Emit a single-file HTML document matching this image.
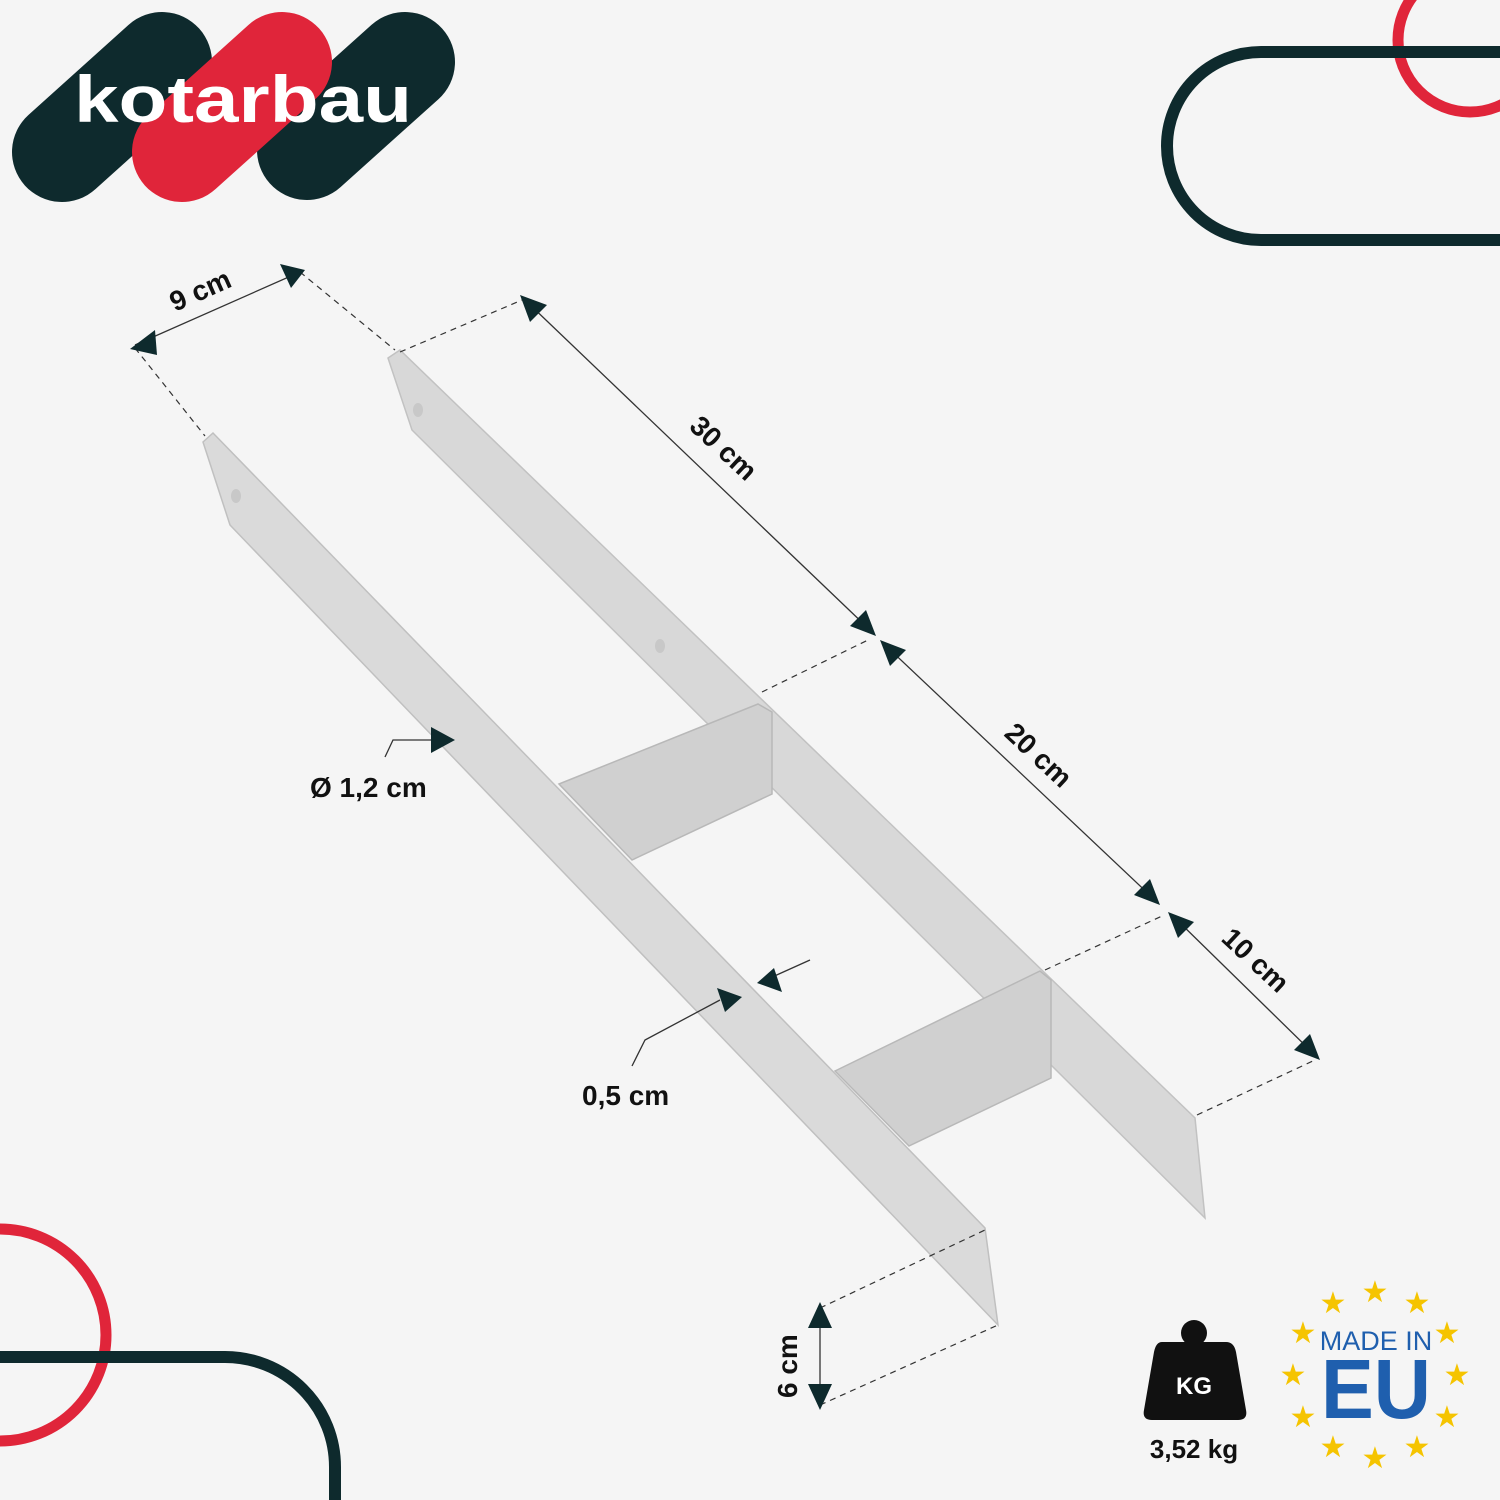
<!DOCTYPE html>
<html><head><meta charset="utf-8"><style>
html,body{margin:0;padding:0;background:#f5f5f5;width:1500px;height:1500px;overflow:hidden}
svg{display:block}
text{font-family:"Liberation Sans",sans-serif}
</style></head><body>
<svg width="1500" height="1500" viewBox="0 0 1500 1500" xmlns="http://www.w3.org/2000/svg" style="overflow:hidden">
<rect width="1500" height="1500" fill="#f5f5f5"/>
<!-- logo -->
<g stroke-linecap="round" fill="none">
<line x1="62" y1="152" x2="162" y2="62" stroke="#0e2a2d" stroke-width="100"/>
<line x1="307" y1="150" x2="405" y2="62" stroke="#0e2a2d" stroke-width="100"/>
<line x1="182" y1="152" x2="282" y2="62" stroke="#e0253a" stroke-width="100"/>
</g>
<text x="74" y="122" font-size="66" font-weight="bold" fill="#fff" textLength="338" lengthAdjust="spacingAndGlyphs">kotarbau</text>
<!-- deco top right -->
<path d="M1500,40 A72,72 0 1,1 1500,39.9" fill="none"/>
<circle cx="1470" cy="40" r="72" fill="none" stroke="#e0253a" stroke-width="11"/>
<path d="M1500,52 L1261,52 A94,94 0 0,0 1261,240 L1500,240" fill="none" stroke="#0e2a2d" stroke-width="12"/>
<!-- deco bottom left -->
<circle cx="0" cy="1335" r="106" fill="none" stroke="#e0253a" stroke-width="11"/>
<path d="M0,1357 L225,1357 A110,110 0 0,1 335,1467 L335,1500" fill="none" stroke="#0e2a2d" stroke-width="12"/>
<!-- H anchor -->
<polygon points="388,358 400,350 1195,1118 1205,1218 412,430" fill="#d8d8d8" stroke="#c2c2c2" stroke-width="1.5"/>
<polygon points="559,784 758,704 772,712 772,794 632,860" fill="#d0d0d0" stroke="#b8b8b8" stroke-width="1.5"/>
<polygon points="835,1071 1040,971 1051,980 1051,1078 909,1146" fill="#d0d0d0" stroke="#b8b8b8" stroke-width="1.5"/>
<polygon points="203,442 213,433 985,1228 998,1325 230,525" fill="#dadada" stroke="#c0c0c0" stroke-width="1.5"/>
<ellipse cx="236" cy="496" rx="5" ry="7" fill="#c8c8c8"/>
<ellipse cx="418" cy="410" rx="5" ry="7" fill="#c8c8c8"/>
<ellipse cx="660" cy="646" rx="5" ry="7" fill="#c8c8c8"/>
<!-- dashed -->
<g stroke="#333" stroke-width="1.2" stroke-dasharray="6,5" fill="none">
<line x1="135" y1="348" x2="205" y2="436"/>
<line x1="300" y1="272" x2="395" y2="350"/>
<line x1="400" y1="352" x2="522" y2="300"/>
<line x1="762" y1="692" x2="868" y2="640"/>
<line x1="1045" y1="970" x2="1162" y2="916"/>
<line x1="1197" y1="1115" x2="1315" y2="1060"/>
<line x1="820" y1="1308" x2="985" y2="1230"/>
<line x1="820" y1="1405" x2="998" y2="1325"/>
</g>
<!-- dimension lines -->
<g stroke="#333" stroke-width="1.3">
<line x1="135" y1="345" x2="300" y2="272"/>
<line x1="525" y1="300" x2="870" y2="630"/>
<line x1="885" y1="645" x2="1155" y2="900"/>
<line x1="1175" y1="918" x2="1315" y2="1055"/>
<line x1="820" y1="1308" x2="820" y2="1405"/>
<polyline points="385,757 393,740 440,740" fill="none"/>
<polyline points="632,1066 645,1040 720,1000" fill="none"/>
<line x1="810" y1="960" x2="770" y2="978"/>
</g>
<g fill="#0e2a2d">
<polygon points="130,349 155,330 157,355"/>
<polygon points="305,270 280,264 291,288"/>
<polygon points="520,295 547,305 530,322"/>
<polygon points="876,636 850,626 866,610"/>
<polygon points="880,640 906,650 890,666"/>
<polygon points="1160,905 1134,895 1150,879"/>
<polygon points="1168,912 1194,922 1178,938"/>
<polygon points="1320,1060 1294,1050 1310,1034"/>
<polygon points="820,1302 808,1328 832,1328"/>
<polygon points="820,1410 808,1384 832,1384"/>
<polygon points="455,740 431,727 431,753"/>
<polygon points="742,997 717,988 725,1012"/>
<polygon points="757,983 782,992 774,968"/>
</g>
<g fill="#111" font-weight="bold" font-size="28">
<text transform="translate(175,312) rotate(-24)">9 cm</text>
<text transform="translate(688,428) rotate(43)">30 cm</text>
<text transform="translate(1003,735) rotate(43)">20 cm</text>
<text transform="translate(1220,940) rotate(43)">10 cm</text>
<text transform="translate(797,1398) rotate(-90)">6 cm</text>
<text x="310" y="797">Ø 1,2 cm</text>
<text x="582" y="1105">0,5 cm</text>
</g>
<!-- weight icon -->
<circle cx="1194" cy="1333" r="13" fill="#111"/>
<path d="M1162,1342 L1226,1342 Q1234,1342 1236,1352 L1246,1410 Q1248,1420 1238,1420 L1152,1420 Q1142,1420 1144,1410 L1154,1352 Q1156,1342 1162,1342 Z" fill="#111"/>
<text x="1194" y="1394" font-size="24" font-weight="bold" fill="#fff" text-anchor="middle">KG</text>
<text x="1194" y="1458" font-size="26" font-weight="bold" fill="#111" text-anchor="middle">3,52 kg</text>
<!-- EU -->
<g fill="#f5c400" font-size="30" text-anchor="middle">
<text x="1375" y="1302">★</text>
<text x="1333" y="1313">★</text>
<text x="1417" y="1313">★</text>
<text x="1303" y="1343">★</text>
<text x="1447" y="1343">★</text>
<text x="1293" y="1385">★</text>
<text x="1457" y="1385">★</text>
<text x="1303" y="1427">★</text>
<text x="1447" y="1427">★</text>
<text x="1333" y="1457">★</text>
<text x="1417" y="1457">★</text>
<text x="1375" y="1468">★</text>
</g>
<text x="1376" y="1350" font-size="27" fill="#1f5fae" text-anchor="middle">MADE IN</text>
<text x="1376" y="1418" font-size="84" font-weight="bold" fill="#1f5fae" text-anchor="middle" textLength="110" lengthAdjust="spacingAndGlyphs">EU</text>
</svg>
</body></html>
